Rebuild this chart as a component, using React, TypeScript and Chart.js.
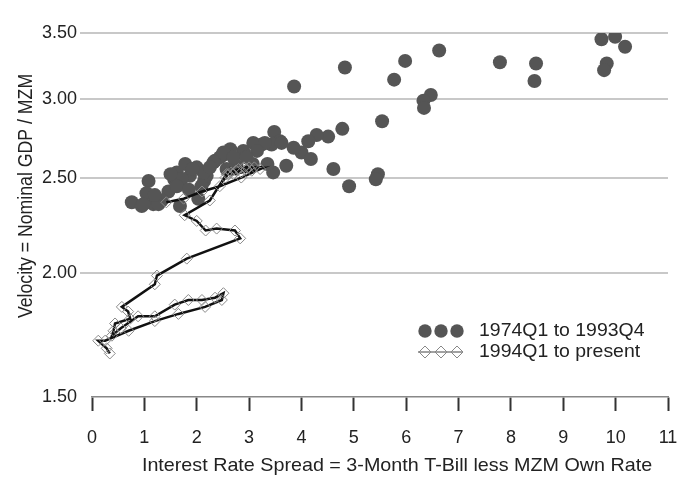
import React, { useEffect, useRef } from "react";
import { Chart, registerables } from "chart.js";

Chart.register(...registerables);

// 1974Q1 to 1993Q4 (filled circles)
const spreadEarly = [
  9.73, 9.99, 10.18, 9.83, 9.78, 7.79, 8.48, 8.45, 6.63, 5.98, 5.77, 6.47, 6.33, 6.34,
  4.83, 5.54, 5.46, 5.42, 4.91, 4.61, 4.78, 4.51, 4.29, 4.13, 4.0, 4.18, 3.86, 3.85,
  3.48, 3.59, 3.43, 3.24, 3.08, 2.89, 2.64, 2.48, 2.35, 3.71, 3.46, 3.35, 3.07, 2.76,
  2.57, 3.62, 3.3, 2.0, 1.78, 1.62, 1.57, 1.87, 2.16, 2.14, 1.68, 1.08, 1.04, 1.46,
  0.76, 0.95, 1.17, 1.33, 1.68, 2.03, 2.19, 2.44, 2.32, 2.13, 1.27, 1.71, 1.62, 2.09,
  0.98, 2.51, 1.92, 1.5, 2.25, 2.7, 3.15, 2.95, 1.2, 1.85,
];
const velocityEarly = [
  3.45, 3.47, 3.39, 3.26, 3.21, 3.27, 3.26, 3.13, 3.36, 3.28, 3.14, 3.03, 2.99, 2.94,
  3.23, 2.85, 2.52, 2.49, 2.45, 2.55, 2.8, 2.75, 2.76, 2.72, 2.65, 2.61, 3.09, 2.68,
  2.78, 2.72, 2.7, 2.7, 2.71, 2.66, 2.67, 2.63, 2.6, 2.57, 2.53, 2.58, 2.58, 2.57,
  2.55, 2.71, 2.71, 2.56, 2.58, 2.53, 2.49, 2.51, 2.53, 2.48, 2.47, 2.48, 2.41, 2.42,
  2.36, 2.34, 2.35, 2.37, 2.34, 2.38, 2.51, 2.62, 2.59, 2.53, 2.35, 2.49, 2.45, 2.45,
  2.35, 2.65, 2.55, 2.52, 2.56, 2.62, 2.66, 2.62, 2.4, 2.43,
];

// 1994Q1 to present (diamonds joined by a line, in time order)
const spreadLate = [
  1.42, 1.75, 2.1, 2.44, 2.85, 3.21, 3.05, 2.85, 2.7, 2.75, 2.95, 3.1, 2.9, 2.65,
  2.8, 3.0, 2.6, 2.55, 2.57, 2.25, 1.77, 2.0, 2.17, 2.38, 2.73, 2.83, 1.81, 1.24,
  1.2, 0.57, 0.69, 0.73, 0.44, 0.41, 0.38, 0.55, 0.88, 1.2, 1.58, 1.84, 2.1, 2.35,
  2.51, 2.48, 2.16, 1.65, 1.2, 0.7, 0.25, 0.12, 0.28, 0.34,
];
const velocityLate = [
  2.36, 2.38, 2.42, 2.45, 2.5, 2.55, 2.54, 2.53, 2.52, 2.54, 2.55, 2.56, 2.56, 2.53,
  2.55, 2.56, 2.52, 2.5, 2.52, 2.37, 2.29, 2.26, 2.21, 2.22, 2.21, 2.17, 2.07, 1.99,
  1.95, 1.85, 1.83, 1.8, 1.78, 1.75, 1.73, 1.76, 1.81, 1.81, 1.86, 1.88, 1.88, 1.89,
  1.91, 1.88, 1.85, 1.82, 1.79, 1.75, 1.71, 1.71, 1.68, 1.66,
];

const yTickValues = [1.5, 2.0, 2.5, 3.0, 3.5];
const xMin = 0;
const xMax = 11;
const seriesLabels = ["1974Q1 to 1993Q4", "1994Q1 to present"];
const xTitle = "Interest Rate Spread = 3-Month T-Bill less MZM Own Rate";
const yTitle = "Velocity = Nominal GDP / MZM";

const FONT = '"Liberation Sans", Arial, Helvetica, sans-serif';
const CIRCLE = "#555555";

const overlayPlugin = {
  id: "overlayText",
  afterDraw(chart: any) {
    const ctx = chart.ctx;
    ctx.save();
    ctx.fillStyle = "#222";
    ctx.font = `17.7px ${FONT}`;
    ctx.textBaseline = "middle";
    ctx.textAlign = "center";
    // x title
    ctx.save();
    ctx.translate(397, 466);
    ctx.scale(1.115, 1);
    ctx.fillText(xTitle, 0, 0);
    ctx.restore();
    // y title
    ctx.save();
    ctx.translate(27, 196);
    ctx.rotate(-Math.PI / 2);
    ctx.scale(1, 1.1);
    ctx.fillText(yTitle, 0, 0);
    ctx.restore();

    // legend
    const xs = [425, 441, 457];
    const y1 = 331;
    const y2 = 352;
    ctx.fillStyle = CIRCLE;
    xs.forEach((x) => {
      ctx.beginPath();
      ctx.arc(x, y1, 6.7, 0, Math.PI * 2);
      ctx.fill();
    });
    ctx.strokeStyle = "#444";
    ctx.lineWidth = 1;
    ctx.beginPath();
    ctx.moveTo(418, y2);
    ctx.lineTo(463, y2);
    ctx.stroke();
    ctx.strokeStyle = "#888";
    xs.forEach((x) => {
      ctx.beginPath();
      ctx.moveTo(x - 6, y2);
      ctx.lineTo(x, y2 - 6);
      ctx.lineTo(x + 6, y2);
      ctx.lineTo(x, y2 + 6);
      ctx.closePath();
      ctx.stroke();
    });
    ctx.fillStyle = "#222";
    ctx.textAlign = "left";
    [y1, y2].forEach((y, i) => {
      ctx.save();
      ctx.translate(479, y);
      ctx.scale(1.1, 1);
      ctx.fillText(seriesLabels[i], 0, 0);
      ctx.restore();
    });
    ctx.restore();
  },
};

export default function App() {
  const ref = useRef<HTMLCanvasElement | null>(null);

  useEffect(() => {
    if (!ref.current) return;
    const early = spreadEarly.map((x, i) => ({ x, y: velocityEarly[i] }));
    const late = spreadLate.map((x, i) => ({ x, y: velocityLate[i] }));
    const chart = new Chart(ref.current, {
      type: "scatter",
      data: {
        datasets: [
          {
            label: seriesLabels[0],
            data: early,
            pointRadius: 7,
            pointBackgroundColor: CIRCLE,
            pointBorderWidth: 0,
            showLine: false,
            order: 2,
          },
          {
            label: seriesLabels[1],
            data: late,
            showLine: true,
            borderColor: "#111",
            borderWidth: 2.5,
            tension: 0,
            pointStyle: "rectRot",
            pointRadius: 5.5,
            pointBackgroundColor: "rgba(255,255,255,0)",
            pointBorderColor: "#8a8a8a",
            pointBorderWidth: 1,
            order: 1,
          },
        ],
      },
      options: {
        animation: false,
        responsive: false,
        maintainAspectRatio: false,
        layout: { padding: { top: 33, right: 0, left: 0, bottom: 0 } },
        plugins: {
          legend: { display: false },
          tooltip: { enabled: false },
          title: { display: false },
        },
        scales: {
          x: {
            type: "linear",
            min: xMin,
            max: xMax,
            afterFit: (s: any) => {
              s.height = 81;
              s.paddingLeft = 0;
              s.paddingRight = 12;
            },
            ticks: {
              stepSize: 1,
              color: "#222",
              font: { family: FONT, size: 18 },
              padding: 16,
            },
            grid: {
              drawOnChartArea: false,
              drawTicks: true,
              tickLength: 14,
              tickColor: "#333",
              tickWidth: 2,
            },
            border: { display: true, color: "#888", width: 1.5 },
          },
          y: {
            type: "logarithmic",
            min: 1.5,
            max: 3.5,
            afterFit: (s: any) => {
              s.width = 92;
              s.paddingTop = 0;
              s.paddingBottom = 0;
            },
            afterBuildTicks: (s: any) => {
              s.ticks = yTickValues.map((v) => ({ value: v }));
            },
            ticks: {
              color: "#222",
              font: { family: FONT, size: 18 },
              padding: 3,
              callback: (v: any) => Number(v).toFixed(2),
            },
            grid: {
              color: (c: any) => (c.tick && c.tick.value === 1.5 ? "rgba(0,0,0,0)" : "#c8c8c8"),
              lineWidth: 2,
              drawTicks: true,
              tickLength: 12,
            },
            border: { display: false },
          },
        },
      },
      plugins: [overlayPlugin],
    });
    return () => chart.destroy();
  }, []);

  return (
    <div style={{ position: "absolute", left: 0, top: 0, width: 680, height: 478, background: "#fff" }}>
      <canvas ref={ref} width={680} height={478} style={{ width: 680, height: 478 }} />
    </div>
  );
}
